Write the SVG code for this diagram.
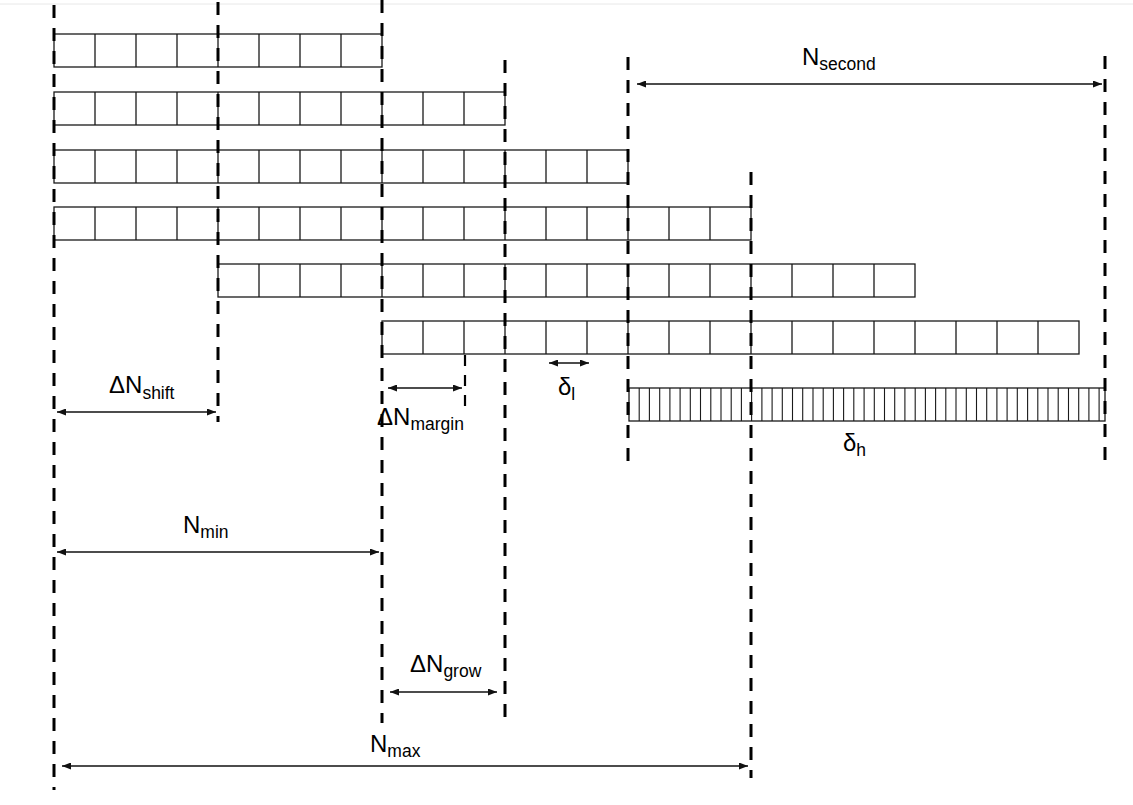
<svg xmlns="http://www.w3.org/2000/svg" width="1133" height="805" viewBox="0 0 1133 805">
<defs>
<marker id="ah" viewBox="0 0 9 7" refX="9" refY="3.5" markerWidth="9" markerHeight="7" markerUnits="userSpaceOnUse" orient="auto-start-reverse">
<path d="M0,0 L9,3.5 L0,7 z" fill="#111"/>
</marker>
</defs>
<style>
.cell{fill:none;stroke:#1a1a1a;stroke-width:1.3}
.hatch{fill:none;stroke:#1a1a1a;stroke-width:1.1}
.dash{stroke:#000;stroke-width:3;stroke-dasharray:13 10;fill:none}
.dash2{stroke:#000;stroke-width:2.2;stroke-dasharray:11 9;fill:none}
.dim{stroke:#111;stroke-width:1.3;fill:none;marker-start:url(#ah);marker-end:url(#ah)}
.lbl{font-family:"Liberation Sans",Arial,sans-serif;font-size:24px;fill:#000}
.sub{font-size:17.5px}
</style>
<rect width="1133" height="805" fill="#fff"/>
<line x1="0" y1="4" x2="1133" y2="4" stroke="#e8e8e8" stroke-width="1"/>

<g id="row1">
<rect class="cell" x="54" y="34" width="328" height="33"/>
<path class="cell" d="M95,34V67M136,34V67M177,34V67M218,34V67M259,34V67M300,34V67M341,34V67"/>
</g>
<g id="row2">
<rect class="cell" x="54" y="92" width="451" height="33"/>
<path class="cell" d="M95,92V125M136,92V125M177,92V125M218,92V125M259,92V125M300,92V125M341,92V125M382,92V125M423,92V125M464,92V125"/>
</g>
<g id="row3">
<rect class="cell" x="54" y="150" width="574" height="33"/>
<path class="cell" d="M95,150V183M136,150V183M177,150V183M218,150V183M259,150V183M300,150V183M341,150V183M382,150V183M423,150V183M464,150V183M505,150V183M546,150V183M587,150V183"/>
</g>
<g id="row4">
<rect class="cell" x="54" y="207" width="697" height="33"/>
<path class="cell" d="M95,207V240M136,207V240M177,207V240M218,207V240M259,207V240M300,207V240M341,207V240M382,207V240M423,207V240M464,207V240M505,207V240M546,207V240M587,207V240M628,207V240M669,207V240M710,207V240"/>
</g>
<g id="row5">
<rect class="cell" x="218" y="264" width="697" height="33"/>
<path class="cell" d="M259,264V297M300,264V297M341,264V297M382,264V297M423,264V297M464,264V297M505,264V297M546,264V297M587,264V297M628,264V297M669,264V297M710,264V297M751,264V297M792,264V297M833,264V297M874,264V297"/>
</g>
<g id="row6">
<rect class="cell" x="382" y="321" width="697" height="33"/>
<path class="cell" d="M423,321V354M464,321V354M505,321V354M546,321V354M587,321V354M628,321V354M669,321V354M710,321V354M751,321V354M792,321V354M833,321V354M874,321V354M915,321V354M956,321V354M997,321V354M1038,321V354"/>
</g>
<g id="fine-bar">
<rect class="cell" x="629" y="388" width="476" height="33"/>
<path class="hatch" d="M639.2,388V421M649.4,388V421M659.7,388V421M669.9,388V421M680.1,388V421M690.3,388V421M700.5,388V421M710.8,388V421M721,388V421M731.2,388V421M741.4,388V421M751.6,388V421M761.9,388V421M772.1,388V421M782.3,388V421M792.5,388V421M802.7,388V421M813,388V421M823.2,388V421M833.4,388V421M843.6,388V421M853.8,388V421M864.1,388V421M874.3,388V421M884.5,388V421M894.7,388V421M904.9,388V421M915.2,388V421M925.4,388V421M935.6,388V421M945.8,388V421M956,388V421M966.3,388V421M976.5,388V421M986.7,388V421M996.9,388V421M1007.1,388V421M1017.3,388V421M1027.6,388V421M1037.8,388V421M1048,388V421M1058.2,388V421M1068.5,388V421M1078.7,388V421M1088.9,388V421M1099.1,388V421"/>
</g>

<g id="guides">
<line class="dash" x1="54" y1="5" x2="54" y2="790"/>
<line class="dash" x1="218" y1="2" x2="218" y2="422"/>
<line class="dash" x1="382" y1="0" x2="382" y2="723"/>
<line class="dash" x1="505" y1="60" x2="505" y2="723"/>
<line class="dash" x1="628" y1="57" x2="628" y2="462"/>
<line class="dash" x1="751" y1="172" x2="751" y2="778"/>
<line class="dash" x1="1105" y1="56" x2="1105" y2="462"/>
<line class="dash2" x1="465" y1="355" x2="465" y2="411"/>
</g>

<g id="connectors">
<line class="dim" x1="57" y1="412" x2="216" y2="412"/>
<line class="dim" x1="57" y1="552" x2="379" y2="552"/>
<line class="dim" x1="62" y1="766" x2="748" y2="766"/>
<line class="dim" x1="390" y1="692" x2="497" y2="692"/>
<line class="dim" x1="388" y1="388" x2="462" y2="388"/>
<line class="dim" x1="549" y1="363" x2="589" y2="363"/>
<line class="dim" x1="637" y1="84" x2="1102" y2="84"/>
</g>

<g id="labels">
<text class="lbl" x="109" y="393">ΔN<tspan class="sub" dy="6">shift</tspan></text>
<text class="lbl" x="183" y="533">N<tspan class="sub" dy="5">min</tspan></text>
<text class="lbl" x="370" y="752">N<tspan class="sub" dy="5">max</tspan></text>
<text class="lbl" x="410" y="672">ΔN<tspan class="sub" dy="5">grow</tspan></text>
<text class="lbl" x="377" y="425">ΔN<tspan class="sub" dy="5">margin</tspan></text>
<text class="lbl" x="558" y="395">δ<tspan class="sub" dy="5">l</tspan></text>
<text class="lbl" x="843" y="451">δ<tspan class="sub" dy="5">h</tspan></text>
<text class="lbl" x="802" y="65">N<tspan class="sub" dy="5">second</tspan></text>
</g>
</svg>
